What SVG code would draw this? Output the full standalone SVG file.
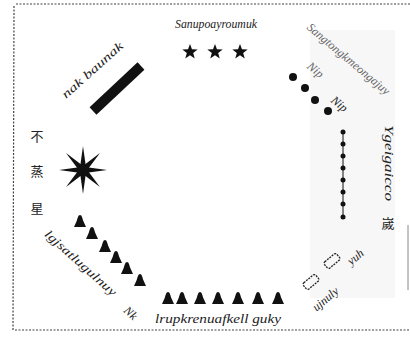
<svg xmlns="http://www.w3.org/2000/svg" width="410" height="340" viewBox="0 0 410 340">
<defs>
<style>
.lbl{font-family:"Liberation Serif","DejaVu Serif",serif;font-size:12px;fill:#222;font-style:italic}
.cjk{font-family:"Liberation Serif","Noto Sans CJK SC",serif;font-size:13px;fill:#222}
.frame{fill:none;stroke:#444;stroke-width:1.2;stroke-dasharray:2 1.5}
.blk{fill:#111}
.dash{fill:none;stroke:#222;stroke-width:1.3;stroke-dasharray:2 1}
</style>
<polygon id="star" points="0,-7 1.7,-2.35 6.66,-2.16 2.76,0.9 4.11,5.66 0,2.9 -4.11,5.66 -2.76,0.9 -6.66,-2.16 -1.7,-2.35" transform="scale(1.15)"/>
<path id="bell" d="M0,-7 C1.8,-7 2.3,-4 3.3,-1 L6,5 L-6,5 L-3.3,-1 C-2.3,-4 -1.8,-7 0,-7 Z"/>
<polygon id="spike" points="0,-24 2.8,-4 0,0 -2.8,-4"/>
</defs>
<rect width="410" height="340" fill="#fff"/>
<rect x="310" y="30" width="85" height="268" fill="#f7f7f7"/>
<g id="frame">
<path class="frame" d="M16,4 L410,4"/>
<path class="frame" d="M14,6 L13,330"/>
<path class="frame" d="M15,330 L410,330"/>
<path d="M408,225 L408,290" stroke="#888" stroke-width="1"/>
</g>
<g id="top">
<text class="lbl" x="216" y="28" text-anchor="middle" textLength="82" lengthAdjust="spacingAndGlyphs">Sanupoayroumuk</text>
<use href="#star" x="190" y="52" class="blk"/>
<use href="#star" x="215" y="52" class="blk"/>
<use href="#star" x="240" y="52" class="blk"/>
</g>
<g id="top-left">
<line x1="93" y1="111" x2="141" y2="66" stroke="#111" stroke-width="10"/>
<text class="lbl" transform="translate(95,73) rotate(-42)" text-anchor="middle" textLength="78" lengthAdjust="spacingAndGlyphs">nak  baunak</text>
</g>
<g id="top-right">
<circle cx="293" cy="77" r="4" class="blk"/>
<circle cx="305" cy="88" r="4" class="blk"/>
<circle cx="315" cy="100" r="4" class="blk"/>
<circle cx="328" cy="111" r="4" class="blk"/>
<text class="lbl" transform="translate(346,62) rotate(40)" text-anchor="middle" textLength="104" lengthAdjust="spacingAndGlyphs" style="fill:#666">Sangtongkmeongajuy</text>
<text class="lbl" transform="translate(313,73) rotate(40)" text-anchor="middle" style="fill:#666">Nip</text>
<text class="lbl" transform="translate(337,107) rotate(40)" text-anchor="middle">Nip</text>
</g>
<g id="right">
<line x1="343" y1="132" x2="343" y2="218" stroke="#111" stroke-width="1"/>
<circle cx="343" cy="132" r="2.5" class="blk"/>
<circle cx="343" cy="144" r="2.5" class="blk"/>
<circle cx="343" cy="156" r="2.5" class="blk"/>
<circle cx="343" cy="168" r="2.5" class="blk"/>
<circle cx="343" cy="180" r="2.5" class="blk"/>
<circle cx="343" cy="192" r="2.5" class="blk"/>
<circle cx="343" cy="204" r="2.5" class="blk"/>
<circle cx="343" cy="217" r="2.5" class="blk"/>
<text class="lbl" transform="translate(385,163) rotate(90)" text-anchor="middle" textLength="76" lengthAdjust="spacingAndGlyphs">Ygeigaicco</text>
<text class="cjk" x="388" y="228" text-anchor="middle">嵗</text>
</g>
<g id="bottom-right">
<rect x="-8" y="-4" width="16" height="8" rx="2" class="dash" transform="translate(311,282) rotate(-40)"/>
<rect x="-8" y="-4" width="16" height="8" rx="2" class="dash" transform="translate(332,261) rotate(-40)"/>
<text class="lbl" transform="translate(328,302) rotate(-40)" text-anchor="middle">ujnuly</text>
<text class="lbl" transform="translate(358,260) rotate(-40)" text-anchor="middle">yuh</text>
</g>
<g id="bottom">
<use href="#bell" x="168" y="299" class="blk"/>
<use href="#bell" x="182" y="299" class="blk"/>
<use href="#bell" x="200" y="299" class="blk"/>
<use href="#bell" x="218" y="299" class="blk"/>
<use href="#bell" x="238" y="299" class="blk"/>
<use href="#bell" x="258" y="299" class="blk"/>
<use href="#bell" x="278" y="299" class="blk"/>
<text class="lbl" x="218" y="323" text-anchor="middle" textLength="126" lengthAdjust="spacingAndGlyphs">lrupkrenuafkell  guky</text>
</g>
<g id="bottom-left">
<use href="#bell" x="80" y="222" class="blk"/>
<use href="#bell" x="92" y="234" class="blk"/>
<use href="#bell" x="105" y="247" class="blk"/>
<use href="#bell" x="116" y="258" class="blk"/>
<use href="#bell" x="127" y="269" class="blk"/>
<use href="#bell" x="140" y="281" class="blk"/>
<text class="lbl" transform="translate(78,266) rotate(42)" text-anchor="middle" textLength="92" lengthAdjust="spacingAndGlyphs">lgjsatlugulnuy</text>
<text class="lbl" transform="translate(128,316) rotate(42)" text-anchor="middle">Nk</text>
</g>
<g id="left">
<g transform="translate(83,170)" fill="#111">
<use href="#spike"/>
<use href="#spike" transform="rotate(45)"/>
<use href="#spike" transform="rotate(90)"/>
<use href="#spike" transform="rotate(135)"/>
<use href="#spike" transform="rotate(180)"/>
<use href="#spike" transform="rotate(225)"/>
<use href="#spike" transform="rotate(270)"/>
<use href="#spike" transform="rotate(315)"/>
<circle r="5.5"/>
</g>
<text class="cjk" x="37" y="141" text-anchor="middle">不</text>
<text class="cjk" x="37" y="176" text-anchor="middle">蒸</text>
<text class="cjk" x="37" y="213" text-anchor="middle">星</text>
</g>
</svg>
